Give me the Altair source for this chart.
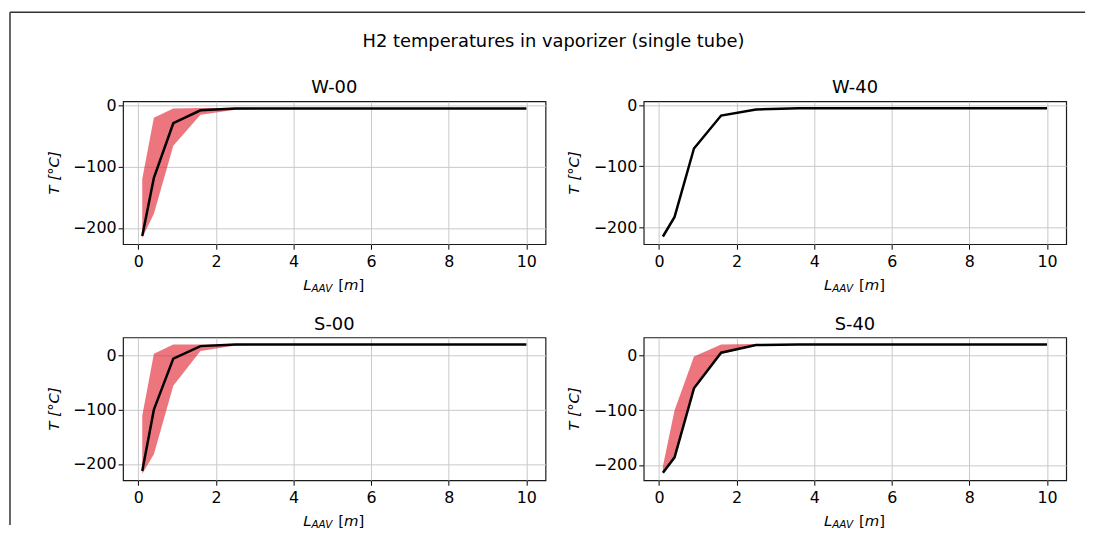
import altair as alt
import pandas as pd

FONT = "DejaVu Sans"

# positions along the vaporizer tube [m]
x_len = [0.1, 0.4, 0.9, 1.6, 2.5, 3.6, 4.9, 6.4, 8.1, 10.0]
x_ticks = [0, 2, 4, 6, 8, 10]
y_ticks = [-200, -100, 0]

panel_names = ["W-00", "W-40", "S-00", "S-40"]

w00_mean = [-213, -118, -29, -8, -5, -5, -5, -5, -5, -5]
w00_lower = [-216, -177, -66, -15, -7, -5, -5, -5, -5, -5]
w00_upper = [-120, -20, -5, -4, -4, -4, -4, -4, -4, -4]

w40_mean = [-215, -183, -71, -17, -7, -5, -5, -5, -5, -5]
w40_lower = [-217, -185, -73, -18, -7.5, -5.5, -5, -5, -5, -5]
w40_upper = [-213, -181, -69, -16, -6.5, -4.5, -5, -5, -5, -5]

s00_mean = [-213, -100, -6, 17, 20, 20, 20, 20, 20, 20]
s00_lower = [-218, -182, -56, 8, 18, 20, 20, 20, 20, 20]
s00_upper = [-111, 3, 20, 20, 21, 21, 21, 21, 21, 21]

s40_mean = [-214, -186, -60, 5, 19, 20, 20, 20, 20, 20]
s40_lower = [-216, -188, -62, 3, 18, 20, 20, 20, 20, 20]
s40_upper = [-202, -100, -2, 20, 21, 21, 21, 21, 21, 21]

main_title = "H2 temperatures in vaporizer (single tube)"

W, H = 426, 144
one = pd.DataFrame({"d": [0]})


def txt(text, x, y, size=15, style="normal", align="center", baseline="alphabetic", angle=0):
    return alt.Chart(one).mark_text(
        text=text, font=FONT, fontSize=size, fontStyle=style, align=align,
        baseline=baseline, angle=angle, color="black"
    ).encode(x=alt.value(x), y=alt.value(y))


def panel(name, mean, lower, upper, first=False):
    df = pd.DataFrame({"x": x_len, "mean": mean, "lower": lower, "upper": upper})
    lo = min(lower + mean)
    hi = max(upper + mean)
    r = hi - lo
    ydom = [lo - 0.05 * r, hi + 0.05 * r]
    xr = max(x_len) - min(x_len)
    xdom = [min(x_len) - 0.05 * xr, max(x_len) + 0.05 * xr]
    xs = alt.Scale(domain=xdom, nice=False, zero=False)
    ys = alt.Scale(domain=ydom, nice=False, zero=False)
    common = dict(title=None, format="d", labelOverlap=False, labelFont=FONT,
                  labelFontSize=16, labelColor="black", tickColor="black",
                  tickSize=5, tickWidth=1, domain=False, grid=True,
                  gridColor="#c8c8c8", gridWidth=1)
    xaxis = alt.Axis(values=x_ticks, labelPadding=4, **common)
    yaxis = alt.Axis(values=y_ticks, labelPadding=2,
                     labelExpr="replace(datum.label, '-', '\u2212')", **common)
    band = alt.Chart(df).mark_area(color="#e0202e", opacity=0.62).encode(
        x=alt.X("x:Q", scale=xs, axis=xaxis),
        y=alt.Y("lower:Q", scale=ys, axis=yaxis),
        y2="upper:Q",
    )
    line = alt.Chart(df).mark_line(color="black", strokeWidth=2.5).encode(
        x=alt.X("x:Q", scale=xs, axis=xaxis),
        y=alt.Y("mean:Q", scale=ys, axis=yaxis),
    )
    c = W / 2
    layers = [
        band, line,
        txt(name, c, -8, size=18),
        txt("T [\u00b0C]", -70, H / 2, style="italic", baseline="middle", angle=270),
        txt("L", c - 23, H + 46, style="italic", align="right"),
        txt("AAV", c - 23, H + 48, size=10.5, style="italic", align="left"),
        txt("[", c + 4, H + 46, align="left"),
        txt("m", c + 9.9, H + 46, style="italic", align="left"),
        txt("]", c + 24.5, H + 46, align="left"),
    ]
    if first:
        layers.append(txt(main_title, 434, -55, size=18))
        layers.append(alt.Chart(one).mark_rule(color="#333333", strokeWidth=1.5).encode(
            x=alt.value(-114), y=alt.value(-90), y2=alt.value(427)))
        layers.append(alt.Chart(one).mark_rule(color="#333333", strokeWidth=1.5).encode(
            x=alt.value(-114), x2=alt.value(970), y=alt.value(-90)))
    return alt.layer(*layers).properties(width=W, height=H)


p1 = panel(panel_names[0], w00_mean, w00_lower, w00_upper, first=True)
p2 = panel(panel_names[1], w40_mean, w40_lower, w40_upper)
p3 = panel(panel_names[2], s00_mean, s00_lower, s00_upper)
p4 = panel(panel_names[3], s40_mean, s40_lower, s40_upper)

chart = alt.concat(
    p1, p2, p3, p4, columns=2,
    spacing=alt.RowColnumber(row=94, column=99),
).properties(
    bounds="flush",
    padding={"left": 0, "top": 0, "right": 5, "bottom": 0},
).configure_view(
    stroke="#1a1a1a", strokeWidth=1.2
)

chart.save("out.html", embed_options={"renderer": "svg", "actions": False})
